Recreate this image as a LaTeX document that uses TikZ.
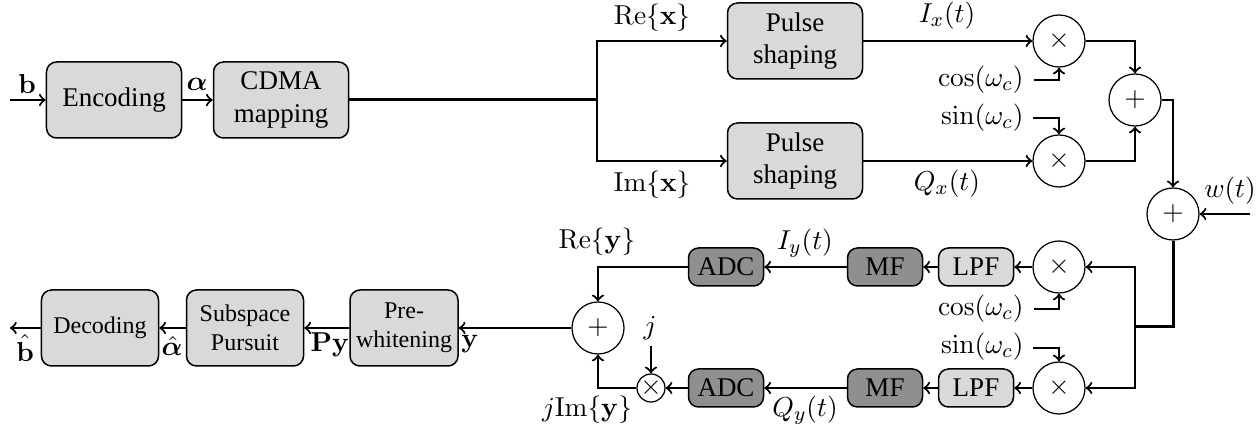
\documentclass[tikz,border=0pt]{standalone}
\usepackage{amsmath,bm}
\usepackage[no-math]{fontspec}
\setmainfont{Liberation Serif}
\tikzset{
  blk/.style={draw, rounded corners=4pt, fill=black!15, align=center, inner sep=1pt, line width=0.6pt},
  bigblk/.style={blk, minimum width=54pt, minimum height=30.4pt},
  lowblk/.style={blk, minimum height=30.4pt, font=\fontsize{9.6}{11.5}\selectfont},
  smallblk/.style={blk, minimum width=30pt, minimum height=15.2pt},
  darkblk/.style={smallblk, fill=black!44},
  op/.style={draw, circle, inner sep=0pt, minimum size=20.8pt, line width=0.5pt},
  smallop/.style={draw, circle, inner sep=0pt, minimum size=11.2pt, line width=0.5pt},
  lbl/.style={inner sep=0pt, font=\fontsize{11}{13}\selectfont},
  conn/.style={line width=0.85pt},
  thickconn/.style={line width=1.2pt},
}
\begin{document}
\begin{tikzpicture}[x=0.4pt, y=-0.4pt, >=to, font=\fontsize{10.8}{13}\selectfont]
\useasboundingbox (0,0) rectangle (1260,430);
% top row
\coordinate (in) at (10,100);
\node[bigblk] (enc) at (114,100) {Encoding};
\node[bigblk] (cdma) at (281,100) {CDMA\\mapping};
\coordinate (split) at (597,100);
\node[bigblk] (ps1) at (795,41) {Pulse\\shaping};
\node[bigblk] (ps2) at (795,161) {Pulse\\shaping};
\node[op] (m1) at (1059,41) {$\times$};
\node[op] (m2) at (1059,161) {$\times$};
\node[op] (s1) at (1135,100) {$+$};
\node[op] (s2) at (1173,214) {$+$};
\coordinate (win) at (1250,214);
\coordinate (c1) at (1034,80);
\coordinate (c2) at (1033,118);
% lower
\coordinate (split2) at (1135,327);
\node[op] (m3) at (1059,267) {$\times$};
\node[op] (m4) at (1059,388) {$\times$};
\node[smallblk] (lpf1) at (976,267) {LPF};
\node[smallblk] (lpf2) at (976,388) {LPF};
\node[darkblk] (mf1) at (885,267) {MF};
\node[darkblk] (mf2) at (885,388) {MF};
\node[darkblk] (adc1) at (726,267) {ADC};
\node[darkblk] (adc2) at (726,388) {ADC};
\node[op] (s3) at (598,328) {$+$};
\node[smallop] (mj) at (651,388) {$\times$};
\coordinate (jc) at (651,346);
\coordinate (c3) at (1034,309);
\coordinate (c4) at (1033,348);
\node[lowblk, minimum width=43.2pt] (pw) at (404,328) {Pre-\\whitening};
\node[lowblk, minimum width=46.8pt] (sp) at (245,328) {Subspace\\Pursuit};
\node[lowblk, minimum width=46.8pt] (dec) at (100,328) {Decoding};
\coordinate (out) at (10,328);

% labels
\node[lbl] (lb) at (27,84) {$\mathbf{b}$};
\node[lbl] (la) at (197,84) {$\bm{\alpha}$};
\node[lbl] (lrex) at (652,18) {$\mathrm{Re}\{\mathbf{x}\}$};
\node[lbl] (limx) at (652,185) {$\mathrm{Im}\{\mathbf{x}\}$};
\node[lbl] (lix) at (947,16) {$I_x(t)$};
\node[lbl] (lqx) at (947,184) {$Q_x(t)$};
\node[lbl, anchor=east] (lcos1) at (1024,80) {$\cos(\omega_c)$};
\node[lbl, anchor=east] (lsin1) at (1024,118) {$\sin(\omega_c)$};
\node[lbl] (lw) at (1230,191) {$w(t)$};
\node[lbl, anchor=east] (lcos2) at (1024,309) {$\cos(\omega_c)$};
\node[lbl, anchor=east] (lsin2) at (1024,347) {$\sin(\omega_c)$};
\node[lbl] (liy) at (805,243) {$I_y(t)$};
\node[lbl] (lqy) at (805,410) {$Q_y(t)$};
\node[lbl] (lrey) at (597,242) {$\mathrm{Re}\{\mathbf{y}\}$};
\node[lbl] (lj) at (650,328) {$j$};
\node[lbl] (ljim) at (587,410) {$j\mathrm{Im}\{\mathbf{y}\}$};
\node[lbl] (ly) at (470,344) {$\mathbf{y}$};
\node[lbl] (lpy) at (330,345) {$\mathbf{Py}$};
\node[lbl] (lah) at (172,346) {$\hat{\bm{\alpha}}$};
\node[lbl] (lbh) at (25,348) {$\hat{\mathbf{b}}$};

% connectors top
\draw[conn,->] (in) -- (enc);
\draw[conn,->] (enc) -- (cdma);
\draw[thickconn] (cdma.east) -- (split);
\draw[conn,->] (split) |- (ps1.west);
\draw[conn,->] (split) |- (ps2.west);
\draw[conn,->] (ps1) -- (m1);
\draw[conn,->] (ps2) -- (m2);
\draw[conn,->] (c1) -| (m1.south);
\draw[conn,->] (c2) -| (m2.north);
\draw[conn,->] (m1.east) -| (s1.north);
\draw[conn,->] (m2.east) -| (s1.south);
\draw[conn,->] (s1.east) -| (s2.north);
\draw[conn,->] (win) -- (s2.east);
% connectors lower
\draw[thickconn] (s2.south) |- (split2);
\draw[conn,->] (split2) |- (m3.east);
\draw[conn,->] (split2) |- (m4.east);
\draw[conn,->] (c3) -| (m3.south);
\draw[conn,->] (c4) -| (m4.north);
\draw[conn,->] (m3) -- (lpf1);
\draw[conn,->] (lpf1) -- (mf1);
\draw[conn,->] (mf1) -- (adc1);
\draw[conn,->] (m4) -- (lpf2);
\draw[conn,->] (lpf2) -- (mf2);
\draw[conn,->] (mf2) -- (adc2);
\draw[conn,->] (adc1.west) -| (s3.north);
\draw[conn,->] (adc2) -- (mj);
\draw[conn,->] (jc) -- (mj.north);
\draw[conn,->] (mj.west) -| (s3.south);
\draw[conn,->] (s3) -- (pw);
\draw[conn,->] (pw) -- (sp);
\draw[conn,->] (sp) -- (dec);
\draw[conn,->] (dec) -- (out);
\end{tikzpicture}
\end{document}
